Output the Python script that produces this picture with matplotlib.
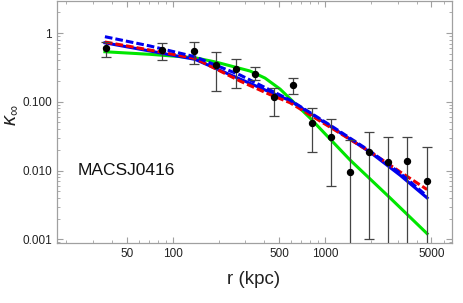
import matplotlib
matplotlib.use("Agg")
import matplotlib.pyplot as plt
from matplotlib.ticker import FixedLocator, LogLocator, NullFormatter

plt.rcParams['font.family'] = ['Liberation Sans', 'DejaVu Sans']
plt.rcParams['mathtext.fontset'] = 'custom'
plt.rcParams['mathtext.rm'] = 'Liberation Sans'
plt.rcParams['mathtext.it'] = 'Liberation Sans:italic'

# ---- data points (r in kpc, kappa, error bounds) ----
r_data = [36.3, 85.5, 139, 192, 259, 348, 464, 619, 826, 1100, 1466, 1954, 2606, 3470, 4654]
k_data = [0.60, 0.56, 0.547, 0.342, 0.296, 0.253, 0.116, 0.175, 0.049, 0.031, 0.0094, 0.0187, 0.0134, 0.0138, 0.0070]
k_hi = [0.75, 0.71, 0.75, 0.53, 0.42, 0.32, 0.16, 0.223, 0.080, 0.056, 0.028, 0.036, 0.0305, 0.031, 0.022]
k_lo = [0.45, 0.40, 0.35, 0.145, 0.16, 0.205, 0.062, 0.128, 0.0187, 0.0059, 1e-5, 0.00100, 1e-5, 1e-5, 1e-5]

# ---- model curves ----
r_green = [35.9, 71, 140, 192, 256, 322, 404, 507, 798, 1462, 2675, 4680]
k_green = [0.534, 0.49, 0.437, 0.378, 0.32, 0.28, 0.221, 0.153, 0.058, 0.0142, 0.0040, 0.00121]

r_model = [35.9, 71, 140, 277, 436, 589, 1079, 1977, 3110, 4680]
k_blue_dash = [0.884, 0.647, 0.452, 0.245, 0.148, 0.106, 0.0458, 0.0191, 0.00917, 0.00424]
k_blue = [0.72, 0.547, 0.414, 0.214, 0.138, 0.104, 0.0443, 0.0185, 0.00857, 0.0040]
k_red_dash = [0.74, 0.565, 0.428, 0.200, 0.127, 0.097, 0.0428, 0.0188, 0.00957, 0.0053]

x_ticks = [50, 100, 500, 1000, 5000]
x_ticklabels = ["50", "100", "500", "1000", "5000"]
y_ticks = [0.001, 0.01, 0.1, 1]
y_ticklabels = ["0.001", "0.010", "0.100", "1"]
label_text = "MACSJ0416"

W, H = 463, 303
fig = plt.figure(figsize=(W/100, H/100), dpi=100)
ax = fig.add_axes([57/W, 1-243.3/H, (452-57)/W, (243.3-0.5)/H])
ax.set_xscale('log')
ax.set_yscale('log')

ax.plot(r_green, k_green, color='#00e600', lw=2.2, zorder=2)
ax.plot(r_model, k_blue, color='#0000ee', lw=2.2, zorder=3)
ax.plot(r_model, k_red_dash, color='#ee0000', lw=2.2, dashes=(2.5, 1), zorder=4)
ax.plot(r_model, k_blue_dash, color='#0000ee', lw=2.2, dashes=(2.5, 1), zorder=5)

yerr_lo = [k - lo for k, lo in zip(k_data, k_lo)]
yerr_hi = [hi - k for k, hi in zip(k_data, k_hi)]
ax.errorbar(r_data, k_data, yerr=[yerr_lo, yerr_hi], fmt='o', color='black',
            ms=4.3, ecolor='#444444', elinewidth=0.9, capsize=3.5, capthick=0.9, zorder=6)

ax.set_xlim(17.4, 6820)
ax.set_ylim(0.000875, 2.97)

ax.xaxis.set_major_locator(FixedLocator(x_ticks))
ax.set_xticklabels(x_ticklabels)
ax.xaxis.set_minor_locator(LogLocator(base=10, subs=range(1, 10), numticks=20))
ax.xaxis.set_minor_formatter(NullFormatter())
ax.yaxis.set_major_locator(FixedLocator(y_ticks))
ax.set_yticklabels(y_ticklabels)
ax.yaxis.set_minor_locator(LogLocator(base=10, subs=range(2, 10), numticks=20))
ax.yaxis.set_minor_formatter(NullFormatter())

for s in ax.spines.values():
    s.set_color('#a0a0a0')
    s.set_linewidth(0.9)
ax.tick_params(which='both', direction='in', top=True, right=True, color='#a0a0a0',
               labelsize=8.5, labelcolor='#222222')
ax.tick_params(which='major', length=4.5, width=0.8)
ax.tick_params(which='minor', length=2.5, width=0.6)

# axis labels placed in figure pixel positions
fig.text(254/W, 1-280/H, "r (kpc)", fontsize=13.5, color='#222222',
         ha='center', va='center')
fig.text(11/W, 1-115/H, r"$\kappa_{\infty}$", fontsize=14.5, color='#222222',
         ha='center', va='center', rotation=90)

fig.text(78/W, 1-171/H, label_text, fontsize=12.5, color='#111111',
         ha='left', va='center')

fig.savefig("out.png", dpi=100)
